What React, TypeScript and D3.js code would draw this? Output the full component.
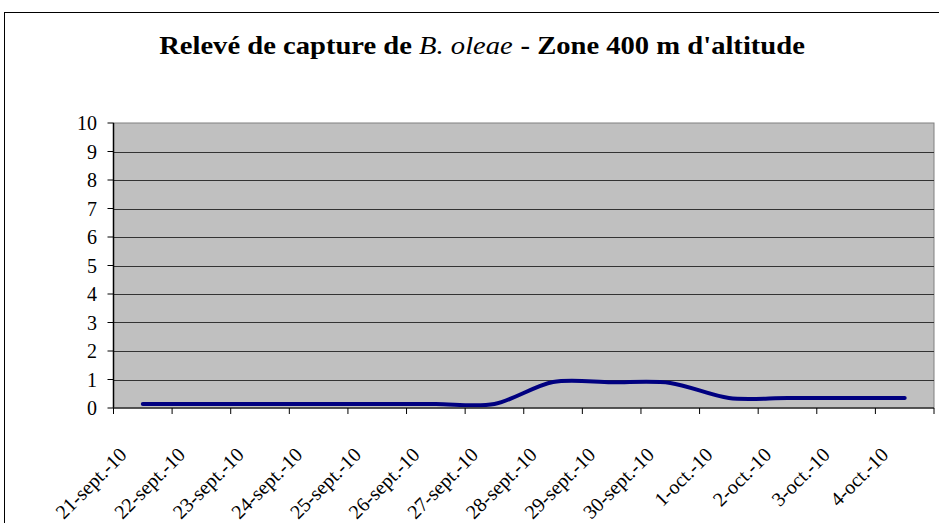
import React from "react";
import * as d3 from "d3";

const dates = [
  "21-sept.-10", "22-sept.-10", "23-sept.-10", "24-sept.-10", "25-sept.-10",
  "26-sept.-10", "27-sept.-10", "28-sept.-10", "29-sept.-10", "30-sept.-10",
  "1-oct.-10", "2-oct.-10", "3-oct.-10", "4-oct.-10",
];
const captures = [0.14, 0.14, 0.14, 0.14, 0.14, 0.14, 0.14, 0.91, 0.9, 0.88, 0.35, 0.35, 0.35, 0.35];
const yTicks = [0, 1, 2, 3, 4, 5, 6, 7, 8, 9, 10];

const W = 939, H = 523;
const plot = { left: 113.5, right: 934, top: 123, bottom: 408 };
const serif = "'Liberation Serif', 'Times New Roman', serif";

export default function App() {
  const x = d3.scaleBand<string>().domain(dates).range([plot.left, plot.right]);
  const y = d3.scaleLinear().domain([0, 10]).range([plot.bottom, plot.top]);
  const cx = (d: string) => (x(d) ?? 0) + x.bandwidth() / 2;

  const line = d3.line<number>()
    .x((_, i) => cx(dates[i]))
    .y(v => y(v))
    .curve(d3.curveCardinal.tension(0.1));

  // tick positions sit on the category boundaries
  const bounds = [...dates.map(d => x(d) ?? 0), plot.right];

  return (
    <svg width={W} height={H} style={{ position: "absolute", left: 0, top: 0, background: "#fff" }}>
      {/* chart frame, runs off the right and bottom */}
      <rect x={4.5} y={12.5} width={W + 10} height={H + 10} fill="#fff" stroke="#000" strokeWidth={1} />

      {/* title is drawn a bit wider than the font, like the original */}
      <g transform="translate(482,54) scale(1.1,1)">
        <text x={0} y={0} textAnchor="middle" fontFamily={serif} fontSize={26} fontWeight="bold">
          Relevé de capture de <tspan fontStyle="italic" fontWeight="normal">B. oleae</tspan>
          <tspan dx={7}>- Zone 400 m d'altitude</tspan>
        </text>
      </g>

      <rect x={plot.left} y={plot.top} width={plot.right - plot.left} height={plot.bottom - plot.top}
        fill="#c0c0c0" stroke="#808080" strokeWidth={1} />

      {yTicks.filter(t => t > 0 && t < 10).map(t => (
        <line key={t} x1={plot.left} x2={plot.right} y1={Math.round(y(t)) + 0.5} y2={Math.round(y(t)) + 0.5}
          stroke="#333" strokeWidth={1} />
      ))}

      <path d={line(captures) ?? ""} fill="none" stroke="#000080" strokeWidth={4} strokeLinecap="round" />

      {/* axes */}
      <line x1={plot.left} x2={plot.left} y1={plot.top} y2={plot.bottom} stroke="#000" strokeWidth={1.5} />
      <line x1={plot.left} x2={plot.right} y1={plot.bottom} y2={plot.bottom} stroke="#333" strokeWidth={1.5} />

      {yTicks.map(t => (
        <g key={t}>
          <line x1={plot.left - 6} x2={plot.left} y1={y(t)} y2={y(t)} stroke="#000" />
          <text x={97} y={y(t)} dy="0.35em" textAnchor="end" fontFamily={serif} fontSize={20}>{t}</text>
        </g>
      ))}

      {bounds.map((b, i) => (
        <line key={i} x1={b} x2={b} y1={plot.bottom} y2={plot.bottom + 6} stroke="#000" />
      ))}

      {dates.map(d => (
        <text key={d} transform={`translate(${cx(d) - 15},456) rotate(-45)`} textAnchor="end"
          fontFamily={serif} fontSize={20}>{d}</text>
      ))}
    </svg>
  );
}
